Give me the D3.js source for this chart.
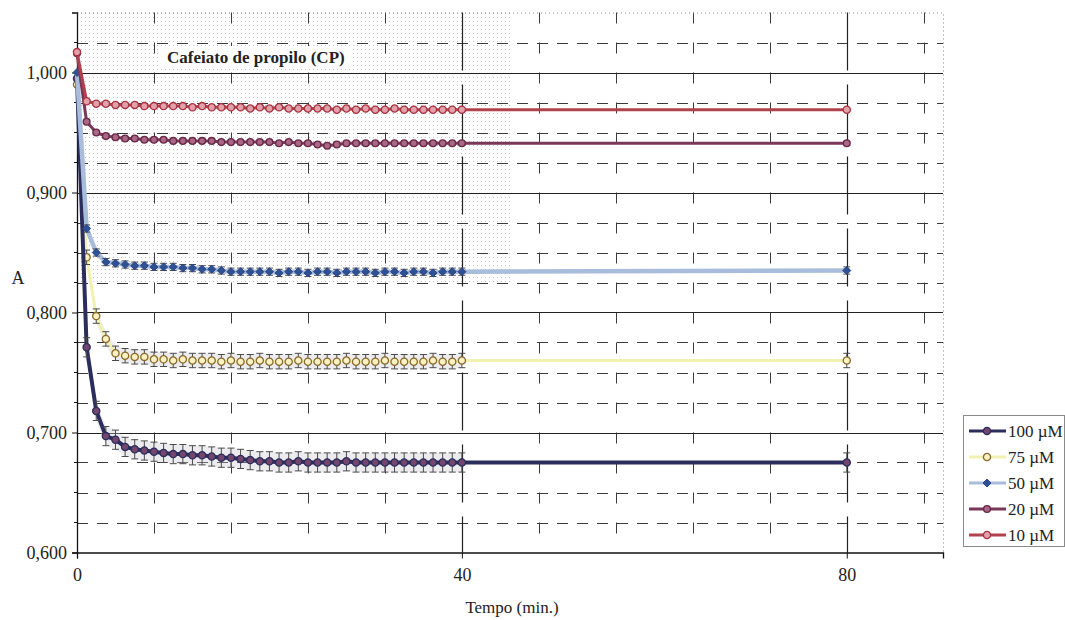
<!DOCTYPE html>
<html>
<head>
<meta charset="utf-8">
<script src="https://cdn.jsdelivr.net/npm/d3@7"></script>
<style>
  html, body { margin: 0; padding: 0; background: #fff; }
  svg { display: block; }
  text { font-family: "Liberation Serif", "DejaVu Serif", serif; fill: #222; }
</style>
</head>
<body>
<svg id="chart" width="1065" height="620"></svg>
<script>
// Time of each reading (min.)
const minutes = [0,1,2,3,4,5,6,7,8,9,10,11,12,13,14,15,16,17,18,19,20,
  21,22,23,24,25,26,27,28,29,30,31,32,33,34,35,36,37,38,39,40,80];

// Absorbance for each concentration of propyl caffeate
const a100 = [0.995,0.771,0.718,0.697,0.694,0.688,0.686,0.685,0.684,0.683,0.682,0.682,0.681,0.681,0.680,0.679,0.679,0.678,0.677,0.676,0.676,
  0.675,0.675,0.676,0.675,0.675,0.675,0.675,0.676,0.675,0.675,0.675,0.675,0.675,0.675,0.675,0.675,0.675,0.675,0.675,0.675,0.675];
const a75 = [0.990,0.846,0.797,0.778,0.766,0.764,0.763,0.763,0.761,0.761,0.760,0.761,0.760,0.760,0.760,0.759,0.760,0.759,0.759,0.760,0.759,
  0.759,0.759,0.760,0.759,0.759,0.759,0.759,0.760,0.759,0.759,0.759,0.760,0.759,0.759,0.759,0.759,0.760,0.759,0.759,0.760,0.760];
const a50 = [1.000,0.870,0.850,0.842,0.841,0.840,0.839,0.839,0.838,0.838,0.838,0.837,0.837,0.836,0.836,0.835,0.834,0.834,0.834,0.834,0.834,
  0.833,0.834,0.834,0.833,0.834,0.834,0.833,0.834,0.834,0.834,0.833,0.834,0.834,0.833,0.834,0.834,0.833,0.834,0.834,0.834,0.835];
const a20 = [1.016,0.959,0.950,0.947,0.946,0.945,0.945,0.944,0.944,0.944,0.943,0.943,0.943,0.943,0.943,0.942,0.942,0.942,0.942,0.942,0.942,
  0.941,0.942,0.941,0.941,0.940,0.939,0.940,0.941,0.941,0.941,0.941,0.941,0.941,0.941,0.941,0.941,0.941,0.941,0.941,0.941,0.941];
const a10 = [1.017,0.976,0.974,0.974,0.973,0.973,0.973,0.972,0.972,0.972,0.972,0.972,0.971,0.972,0.971,0.971,0.971,0.971,0.970,0.971,0.970,
  0.971,0.970,0.970,0.970,0.970,0.970,0.969,0.970,0.969,0.970,0.969,0.969,0.970,0.969,0.969,0.969,0.969,0.969,0.969,0.969,0.969];

// Standard deviation (half error bar) per concentration
const errors = [0.008, 0.006, 0.003, 0.0015, 0.0015];

const seriesNames = ["100 \u00B5M", "75 \u00B5M", "50 \u00B5M", "20 \u00B5M", "10 \u00B5M"];
const seriesValues = [a100, a75, a50, a20, a10];

// Axis ticks
const xTicks = [0, 40, 80];
const xMinorGrid = [8, 16, 24, 32, 48, 56, 64, 72, 88];
const yTicks = [0.6, 0.7, 0.8, 0.9, 1.0];
const yMinorGrid = [0.625, 0.65, 0.675, 0.725, 0.75, 0.775, 0.825, 0.85, 0.875, 0.925, 0.95, 0.975, 1.025];

const title = "Cafeiato de propilo (CP)";

// Drawing styles for each series
const styles = [
  { line: "#2b2d5c", width: 4,   fill: "#74466e", stroke: "#2b2d5c", r: 3.6, shape: "circle", band: true },
  { line: "#f2f2b0", width: 3,   fill: "#fbf1c2", stroke: "#8a6a2c", r: 3.6, shape: "circle", band: true },
  { line: "#a8bcdc", width: 4.5, fill: "#2f5092", stroke: "#2a4684", r: 3.0, shape: "diamond", band: false },
  { line: "#7a3858", width: 3,   fill: "#a86886", stroke: "#6a2848", r: 3.4, shape: "circle", band: false },
  { line: "#b0424e", width: 3,   fill: "#e2a0aa", stroke: "#a8323f", r: 3.6, shape: "circle", band: false }
];

const svg = d3.select("#chart");

const x = d3.scaleLinear().domain([0, 90]).range([77, 943]);
const y = d3.scaleLinear().domain([0.6, 1.05]).range([552.5, 12.5]);

const [x0, x1] = x.range();
const [yb, yt] = y.range();

// Stippled screen behind the upper-left part of the plot
const defs = svg.append("defs");
const pat = defs.append("pattern").attr("id", "stipple")
  .attr("patternUnits", "userSpaceOnUse").attr("width", 4).attr("height", 4);
pat.append("rect").attr("x", 1).attr("y", 1).attr("width", 1).attr("height", 1).attr("fill", "#c2c2c2");

svg.append("rect")
  .attr("x", x(0)).attr("y", y(1.05))
  .attr("width", x(45) - x(0)).attr("height", y(0.825) - y(1.05))
  .attr("fill", "url(#stipple)");

// Grid
const grid = svg.append("g");
grid.selectAll(".hmin").data(yMinorGrid).join("line")
  .attr("x1", x0).attr("x2", x1)
  .attr("y1", d => Math.round(y(d)) + 0.5).attr("y2", d => Math.round(y(d)) + 0.5)
  .attr("stroke", "#3a3a3a").attr("stroke-width", 1).attr("stroke-dasharray", "11,9");
grid.selectAll(".vmin").data(xMinorGrid).join("line")
  .attr("x1", d => Math.round(x(d)) + 0.5).attr("x2", d => Math.round(x(d)) + 0.5)
  .attr("y1", yt).attr("y2", yb)
  .attr("stroke", "#3a3a3a").attr("stroke-width", 1).attr("stroke-dasharray", "11,19");
grid.selectAll(".hmaj").data(yTicks.filter(d => d > 0.6)).join("line")
  .attr("x1", x0).attr("x2", x1)
  .attr("y1", d => Math.round(y(d)) + 0.5).attr("y2", d => Math.round(y(d)) + 0.5)
  .attr("stroke", "#222").attr("stroke-width", 1.2);
grid.selectAll(".vmaj").data(xTicks.filter(d => d > 0)).join("line")
  .attr("x1", d => Math.round(x(d)) + 0.5).attr("x2", d => Math.round(x(d)) + 0.5)
  .attr("y1", yt).attr("y2", yb)
  .attr("stroke", "#222").attr("stroke-width", 1.2).attr("stroke-dasharray", "58,14");

// Dotted frame on top and right
svg.append("path")
  .attr("d", `M${x0},${yt + 0.5}H${x1 + 0.5}V${yb}`)
  .attr("fill", "none").attr("stroke", "#888").attr("stroke-width", 1).attr("stroke-dasharray", "1,3");

// Title on a white label
const tg = svg.append("g");
tg.append("rect").attr("x", 160).attr("y", 46).attr("width", 193).attr("height", 23).attr("fill", "#fff");
tg.append("text").attr("x", 167).attr("y", 63)
  .attr("font-size", 17).attr("font-weight", "bold").attr("fill", "#111").text(title);

// Axes
const yAxis = d3.axisLeft(y).tickValues(yTicks).tickSize(5).tickPadding(5)
  .tickFormat(d => d3.format(".3f")(d).replace(".", ","));
const gy = svg.append("g").attr("transform", `translate(${x0},0)`).call(yAxis);
gy.select(".domain").attr("stroke", "#111").attr("stroke-width", 1.3);
gy.selectAll(".tick line").attr("stroke", "#111");
gy.selectAll("text").attr("font-size", 18).attr("fill", "#333");

svg.append("g").selectAll("line").data(yMinorGrid).join("line")
  .attr("x1", x0 - 3).attr("x2", x0)
  .attr("y1", d => y(d)).attr("y2", d => y(d)).attr("stroke", "#111");

const xAxis = d3.axisBottom(x).tickValues(xTicks).tickSize(6).tickPadding(10).tickFormat(d3.format("d"));
const gx = svg.append("g").attr("transform", `translate(0,${yb})`).call(xAxis);
gx.select(".domain").attr("stroke", "#111").attr("stroke-width", 1.3);
gx.selectAll(".tick line").attr("stroke", "#111");
gx.selectAll("text").attr("font-size", 18).attr("fill", "#333");

svg.append("text").attr("x", 18).attr("y", 284).attr("text-anchor", "middle")
  .attr("font-size", 18).attr("fill", "#333").text("A");
svg.append("text").attr("x", 512).attr("y", 613).attr("text-anchor", "middle")
  .attr("font-size", 17).attr("fill", "#333").text("Tempo (min.)");

// Marker drawing helper
function marker(sel, st) {
  if (st.shape === "diamond") {
    const r = st.r + 1;
    sel.append("path")
      .attr("d", `M0,${-r}L${r},0L0,${r}L${-r},0Z`)
      .attr("fill", st.fill).attr("stroke", st.stroke).attr("stroke-width", 1);
  } else {
    sel.append("circle").attr("r", st.r)
      .attr("fill", st.fill).attr("stroke", st.stroke).attr("stroke-width", 1.3);
  }
}

// Series (drawn so that the lowest concentration sits on top)
const line = d3.line().x(d => x(d.t)).y(d => y(d.v));
const order = [1, 0, 2, 3, 4];
order.forEach(i => {
  const st = styles[i];
  const err = errors[i];
  const pts = minutes.map((t, k) => ({ t, v: seriesValues[i][k] }));
  const g = svg.append("g");

  if (st.band) {
    const band = pts.filter(p => p.t >= 1 && p.t <= 40);
    g.append("path")
      .attr("d", d3.area().x(d => x(d.t)).y0(d => y(d.v - err)).y1(d => y(d.v + err))(band))
      .attr("fill", "#c9c9d2").attr("opacity", 0.35);
  }

  g.append("path").attr("d", line(pts))
    .attr("fill", "none").attr("stroke", st.line).attr("stroke-width", st.width)
    .attr("stroke-linejoin", "round");

  const eb = g.append("g").attr("stroke", "#4a4a4a").attr("stroke-width", 1);
  pts.filter(p => p.t > 0).forEach(p => {
    const cx = x(p.t), ya = y(p.v + err), yb2 = y(p.v - err);
    eb.append("line").attr("x1", cx).attr("x2", cx).attr("y1", ya).attr("y2", yb2);
    eb.append("line").attr("x1", cx - 3.5).attr("x2", cx + 3.5).attr("y1", ya).attr("y2", ya);
    eb.append("line").attr("x1", cx - 3.5).attr("x2", cx + 3.5).attr("y1", yb2).attr("y2", yb2);
  });

  g.selectAll(".m").data(pts).join("g")
    .attr("transform", d => `translate(${x(d.t)},${y(d.v)})`)
    .each(function () { marker(d3.select(this), st); });
});

// Legend
const lg = svg.append("g");
lg.append("rect").attr("x", 963.5).attr("y", 415.5).attr("width", 101).attr("height", 131)
  .attr("fill", "#fff").attr("stroke", "#8a8a8a").attr("stroke-width", 1);
seriesNames.forEach((name, i) => {
  const st = styles[i];
  const cy = 431 + i * 26;
  lg.append("line").attr("x1", 969).attr("x2", 1006).attr("y1", cy).attr("y2", cy)
    .attr("stroke", st.line).attr("stroke-width", Math.min(st.width, 3));
  const m = lg.append("g").attr("transform", `translate(987,${cy})`);
  marker(m, st);
  lg.append("text").attr("x", 1008).attr("y", cy + 6).attr("font-size", 17).attr("fill", "#222").text(name);
});
</script>
</body>
</html>
